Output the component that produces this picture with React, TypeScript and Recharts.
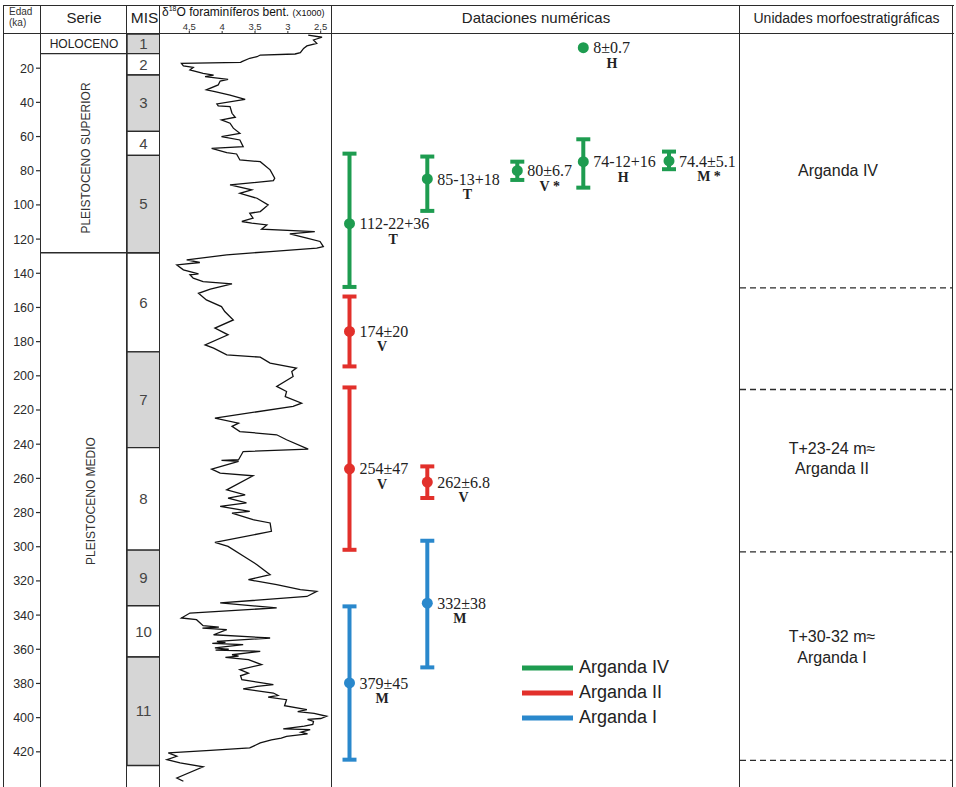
import {
  ComposedChart,
  LineChart,
  Line,
  Scatter,
  ErrorBar,
  XAxis,
  YAxis,
  ReferenceArea,
  ReferenceLine,
  Legend,
} from 'recharts'

// ─── Age scale (ka), shared by every column ─────────
const AGE_MAX = 440
const AGE_TICKS = [20, 40, 60, 80, 100, 120, 140, 160, 180, 200, 220, 240, 260, 280, 300, 320, 340, 360, 380, 400, 420]

// ─── Serie ─────────
const HOLOCENE_END = 11.5
const PLEISTOCENE_SUP_END = 128

// ─── MIS stages (boundaries in ka) ─────────
const MIS_LABELS = ['1', '2', '3', '4', '5', '6', '7', '8', '9', '10', '11']
const MIS_BOUNDS = [0, 11.5, 24, 57, 71, 128, 186, 242, 302, 334.5, 364.5, 428]

// ─── δ18O benthic curve ─────────────────────────────
const D18O_AGE = [
  0.6, 1.9, 3.5, 5.5, 7, 8.4, 10.9, 11.7, 12.3, 13.3, 14.2, 16.2, 16.6, 17.2, 18.7, 19.5, 21, 23, 24, 25,
  26.5, 27.5, 29.8, 32.7, 33.7, 35.7, 38.2, 40.9, 42, 42.5, 46.4, 48.7, 50.3, 52.2, 55.1, 58.1, 60, 62, 65.9, 66.9,
  69.4, 70.2, 73.7, 74.7, 79.5, 84.4, 85.8, 88.3, 91.2, 93.2, 96.1, 100, 103.9, 104.9, 107.8, 109.7, 110.7, 111.7, 114.2, 115.6,
  117, 119.5, 121.4, 124.4, 125.3, 127.3, 129.2, 132.2, 133.7, 135.1, 138, 140.4, 140.9, 142.9, 144.9, 146.2, 149.3, 151.7, 155.6, 159.5,
  162.4, 167.3, 172.1, 176, 181.9, 183.8, 187.7, 189.1, 192.6, 195.5, 197.5, 200.4, 206.2, 209.2, 212.1, 216, 217.9, 224.7, 227.7, 229.6,
  232.6, 234.5, 237.4, 242.9, 244.3, 249.1, 249.5, 250, 254.6, 256.9, 258.5, 266.7, 269.6, 271.5, 274.4, 276.4, 279.3, 280.3, 284.2, 286.1,
  291, 297.5, 299.8, 306.6, 310.5, 316.4, 319.3, 322.2, 325.1, 326.1, 329.1, 332.9, 335.8, 338.8, 341.7, 342.7, 346.2, 347, 347.6, 348.5,
  351.5, 353.4, 355.4, 356, 356.6, 357.3, 359.2, 360, 360.5, 361.2, 363.2, 364, 364.8, 366.1, 369, 371.9, 374, 375.5, 377.8, 380.7,
  381.7, 383.2, 385.6, 387, 388, 389.5, 393, 395.3, 396.5, 397.5, 399.2, 400.5, 401, 402.2, 404, 405, 406.6, 407, 408.5, 409.5,
  410.9, 412, 413, 414.8, 417.7, 419.1, 420.6, 422.6, 424.6, 426.5, 428.8, 435.3, 437.2,
]
const D18O_VALUE = [
  2.69, 2.48, 2.61, 2.56, 2.71, 2.76, 2.81, 2.89, 3.42, 3.47, 3.58, 3.7, 3.72, 4.62, 4.59, 4.44, 4.49, 4.29, 4.13, 4.26,
  3.91, 4.03, 4.06, 4.24, 4.11, 3.88, 3.65, 4.08, 4.06, 3.88, 3.85, 3.8, 4.01, 3.88, 3.83, 3.73, 4.01, 3.73, 3.68, 4.16,
  3.93, 3.78, 3.73, 3.42, 3.27, 3.2, 3.22, 3.88, 3.55, 3.73, 3.47, 3.3, 3.42, 3.58, 3.53, 3.7, 3.55, 3.32, 3.4, 2.59,
  2.97, 2.71, 2.51, 2.46, 2.56, 3.27, 3.93, 4.54, 4.34, 4.69, 4.59, 4.36, 4.49, 4.44, 4.29, 3.85, 4.18, 4.36, 4.24, 4.01,
  3.96, 3.83, 4.11, 3.91, 4.26, 4.13, 3.93, 3.42, 3.27, 2.87, 2.94, 2.92, 3.17, 3.02, 3.04, 2.79, 2.92, 4.11, 3.75, 3.85,
  3.73, 3.17, 3.02, 2.69, 3.68, 3.75, 4.01, 3.75, 4.16, 4.03, 3.53, 3.93, 3.65, 3.91, 3.63, 4.03, 3.58, 3.85, 3.53, 3.27,
  3.25, 4.11, 3.91, 3.63, 3.47, 3.27, 3.6, 3.17, 2.81, 2.56, 2.71, 4.03, 3.17, 4.49, 4.62, 4.39, 4.29, 4.05, 4.3, 3.93,
  4.13, 3.27, 4.08, 3.95, 4.15, 3.68, 4.11, 3.9, 4.1, 3.42, 3.85, 3.75, 3.95, 3.6, 3.4, 3.73, 3.6, 3.72, 3.7, 3.22,
  3.47, 3.68, 3.22, 3.15, 3.3, 3.02, 3.05, 2.71, 2.85, 2.6, 2.41, 2.5, 2.7, 2.61, 2.62, 2.75, 3.07, 2.66, 2.8, 2.7,
  3.02, 3.1, 3.25, 3.42, 3.58, 4.18, 4.82, 4.69, 4.84, 4.64, 4.29, 4.69, 4.59,
]
const D18O_TICKS = [2.5, 3, 3.5, 4, 4.5]

// ─── Dataciones numéricas ─────────
const UNIT_NAMES = ['Arganda IV', 'Arganda II', 'Arganda I']
const UNIT_COLORS = ['#1e9c50', '#e2302b', '#2a88cc']

const IV_LABEL = ['112-22+36', '85-13+18', '80±6.7', '74-12+16', '74.4±5.1']
const IV_METHOD = ['T', 'T', 'V *', 'H', 'M *']
const IV_AGE = [111, 84.8, 80, 74.7, 74.3]
const IV_MIN = [70, 71.7, 74.7, 61.6, 68.8]
const IV_MAX = [148, 103.5, 85.4, 89.9, 79.1]
const IV_SLOT = [0, 1, 2, 3, 4]

// Holocene date, no visible bar
const HOLO_LABEL = ['8±0.7']
const HOLO_METHOD = ['H']
const HOLO_AGE = [8]
const HOLO_SLOT = [3]

const II_LABEL = ['174±20', '254±47', '262±6.8']
const II_METHOD = ['V', 'V', 'V']
const II_AGE = [174, 254.4, 262.2]
const II_MIN = [153.6, 206.8, 253]
const II_MAX = [194.5, 301.8, 271.5]
const II_SLOT = [0, 0, 1]

const I_LABEL = ['332±38', '379±45']
const I_METHOD = ['M', 'M']
const I_AGE = [333, 379.7]
const I_MIN = [296.5, 334.9]
const I_MAX = [370.6, 424.6]
const I_SLOT = [1, 0]

// ─── Unidades morfoestratigráficas ─────────
const UNIT_BOUNDS = [148.5, 208, 303, 425]

// ─── layout ─────────
const PLOT_TOP = 34
const PLOT_H = 752
const SLOT_X = [17.5, 95.3, 185.3, 251.3, 337]
const MIS_X = [86, 119]
const LINE = '#2b2b2b'
const SANS = '"Liberation Sans", Arial, Helvetica, sans-serif'
const SERIF = '"Liberation Serif", "Times New Roman", serif'

const d18oRows = D18O_AGE.map((age, i) => ({ age, d18o: D18O_VALUE[i] }))

const misRows = MIS_LABELS.map((label, i) => ({
  x: (MIS_X[0] + MIS_X[1]) / 2,
  age: (MIS_BOUNDS[i] + MIS_BOUNDS[i + 1]) / 2,
  label,
}))

const boundRows = UNIT_BOUNDS.map((age) => ({ x: 0.5, age }))

function buildRows(label: string[], method: string[], age: number[], min: number[] | null, max: number[] | null, slot: number[]) {
  return age.map((a, i) => ({
    x: SLOT_X[slot[i]],
    age: a,
    err: min && max ? [a - min[i], max[i] - a] : [0, 0],
    label: label[i],
    method: method[i],
  }))
}

const ivRows = buildRows(IV_LABEL, IV_METHOD, IV_AGE, IV_MIN, IV_MAX, IV_SLOT)
const holoRows = buildRows(HOLO_LABEL, HOLO_METHOD, HOLO_AGE, null, null, HOLO_SLOT)
const iiRows = buildRows(II_LABEL, II_METHOD, II_AGE, II_MIN, II_MAX, II_SLOT)
const iRows = buildRows(I_LABEL, I_METHOD, I_AGE, I_MIN, I_MAX, I_SLOT)

const datingMark = (color: string) => (props: any) => {
  const { cx, cy, payload } = props
  const w = payload.label.length * 7.5
  return (
    <g>
      <circle cx={cx} cy={cy} r={5.5} fill={color} />
      <text x={cx + 10} y={cy} dy="0.35em" fontFamily={SERIF} fontSize={16} fill="#222">
        {payload.label}
      </text>
      <text x={cx + 10 + w / 2} y={cy + 15} dy="0.35em" textAnchor="middle" fontFamily={SERIF} fontWeight="bold" fontSize={14} fill="#222">
        {payload.method}
      </text>
    </g>
  )
}

const misLabel = (props: any) => (
  <text x={props.cx} y={props.cy} dy="0.35em" textAnchor="middle" fontSize={15} fill="#444">
    {props.payload.label}
  </text>
)

const ArgandaLegend = (props: any) => {
  const items = (props.payload ?? []).filter((p: any) => UNIT_NAMES.includes(p.value))
  items.sort((a: any, b: any) => UNIT_NAMES.indexOf(a.value) - UNIT_NAMES.indexOf(b.value))
  return (
    <div style={{ whiteSpace: 'nowrap' }}>
      {items.map((entry: any) => (
        <div key={entry.value} style={{ display: 'flex', alignItems: 'center', height: 25, width: 160 }}>
          <svg width={51} height={6} style={{ flex: 'none' }}>
            <line x1={0} x2={51} y1={3} y2={3} stroke={entry.color} strokeWidth={5} />
          </svg>
          <span style={{ fontSize: 18, color: '#222', marginLeft: 6, fontFamily: SANS }}>{entry.value}</span>
        </div>
      ))}
    </div>
  )
}

const abs = (left: number, top: number, extra: any = {}) => ({ position: 'absolute' as const, left, top, ...extra })

export default function App() {
  const vLines = [4, 41, 127, 160, 332, 740, 953]
  return (
    <div style={{ position: 'absolute', left: 0, top: 0, width: 956, height: 787, background: '#fff', fontFamily: SANS, color: '#222', overflow: 'hidden' }}>
      {/* header texts */}
      <div style={abs(9, 6, { fontSize: 10, lineHeight: '11px', color: '#333' })}>
        Edad
        <br />
        (ka)
      </div>
      <div style={abs(41, 9, { width: 86, textAlign: 'center', fontSize: 15 })}>Serie</div>
      <div style={abs(127, 9, { width: 35, textAlign: 'center', fontSize: 15.5 })}>MIS</div>
      <div style={abs(162, 5, { fontSize: 12, whiteSpace: 'nowrap', color: '#111' })}>
        δ<sup style={{ fontSize: 7 }}>18</sup>O foraminíferos bent. <span style={{ fontSize: 9 }}>(X1000)</span>
      </div>
      <div style={abs(332, 9, { width: 408, textAlign: 'center', fontSize: 15 })}>Dataciones numéricas</div>
      <div style={abs(740, 10, { width: 213, textAlign: 'center', fontSize: 14, whiteSpace: 'nowrap' })}>Unidades morfoestratigráficas</div>

      {/* Edad + Serie + MIS */}
      <div style={abs(4, PLOT_TOP)}>
        <ComposedChart width={156} height={PLOT_H} data={misRows} margin={{ top: 0, right: 0, bottom: 0, left: 0 }}>
          <XAxis type="number" dataKey="x" domain={[0, 119]} allowDataOverflow hide />
          <YAxis
            type="number"
            dataKey="age"
            domain={[0, AGE_MAX]}
            allowDataOverflow
            reversed
            ticks={AGE_TICKS}
            interval={0}
            width={37}
            tickSize={5}
            tickMargin={2}
            axisLine={false}
            tickLine={{ stroke: LINE, strokeWidth: 1.2 }}
            tick={{ fontSize: 12.5, fill: '#2a2a2a' }}
          />
          {MIS_LABELS.map((m, i) => (
            <ReferenceArea
              key={m}
              x1={MIS_X[0]}
              x2={MIS_X[1]}
              y1={MIS_BOUNDS[i]}
              y2={MIS_BOUNDS[i + 1]}
              fill={i % 2 === 0 ? '#d6d6d6' : '#ffffff'}
              fillOpacity={1}
              stroke={LINE}
              strokeWidth={1.4}
            />
          ))}
          <ReferenceLine segment={[{ x: 0, y: HOLOCENE_END }, { x: MIS_X[0], y: HOLOCENE_END }]} stroke={LINE} strokeWidth={1.4} />
          <ReferenceLine y={PLEISTOCENE_SUP_END} stroke={LINE} strokeWidth={1.6} />
          <ReferenceArea
            x1={0}
            x2={MIS_X[0]}
            y1={0}
            y2={HOLOCENE_END}
            fill="none"
            stroke="none"
            label={{ value: 'HOLOCENO', position: 'center', fontSize: 12, fill: '#222' }}
          />
          <Scatter data={misRows} shape={misLabel} isAnimationActive={false} />
        </ComposedChart>
      </div>
      <div style={abs(86, 158, { transform: 'translate(-50%,-50%) rotate(-90deg)', fontSize: 12, whiteSpace: 'nowrap', color: '#333' })}>
        PLEISTOCENO SUPERIOR
      </div>
      <div style={abs(91, 501, { transform: 'translate(-50%,-50%) rotate(-90deg)', fontSize: 12, whiteSpace: 'nowrap', color: '#333' })}>
        PLEISTOCENO MEDIO
      </div>

      {/* δ18O curve */}
      <div style={abs(160, PLOT_TOP - 30)}>
        <LineChart layout="vertical" width={172} height={PLOT_H + 30} data={d18oRows} margin={{ top: 0, right: 0, bottom: 0, left: 0 }}>
          <XAxis
            type="number"
            dataKey="d18o"
            orientation="top"
            domain={[2.328, 4.946]}
            reversed
            ticks={D18O_TICKS}
            interval={0}
            height={30}
            tickSize={3}
            tickMargin={1}
            axisLine={false}
            tickLine={{ stroke: LINE }}
            tick={{ fontSize: 9.5, fill: '#333' }}
            tickFormatter={(v: number) => String(v).replace('.', ',')}
            allowDataOverflow
          />
          <YAxis type="number" dataKey="age" domain={[0, AGE_MAX]} hide allowDataOverflow />
          <Line type="linear" dataKey="d18o" stroke="#111" strokeWidth={1.3} dot={false} isAnimationActive={false} />
        </LineChart>
      </div>

      {/* Dataciones numéricas */}
      <div style={abs(332, PLOT_TOP)}>
        <ComposedChart width={408} height={PLOT_H} margin={{ top: 0, right: 0, bottom: 0, left: 0 }}>
          <XAxis type="number" dataKey="x" domain={[0, 408]} allowDataOverflow hide />
          <YAxis type="number" dataKey="age" domain={[0, AGE_MAX]} allowDataOverflow reversed hide />
          <Scatter name={UNIT_NAMES[0]} data={ivRows} fill={UNIT_COLORS[0]} shape={datingMark(UNIT_COLORS[0])} legendType="plainline" isAnimationActive={false}>
            <ErrorBar dataKey="err" direction="y" width={7} strokeWidth={4} stroke={UNIT_COLORS[0]} isAnimationActive={false} />
          </Scatter>
          <Scatter name="holo" data={holoRows} fill={UNIT_COLORS[0]} shape={datingMark(UNIT_COLORS[0])} legendType="none" isAnimationActive={false} />
          <Scatter name={UNIT_NAMES[1]} data={iiRows} fill={UNIT_COLORS[1]} shape={datingMark(UNIT_COLORS[1])} legendType="plainline" isAnimationActive={false}>
            <ErrorBar dataKey="err" direction="y" width={7} strokeWidth={4} stroke={UNIT_COLORS[1]} isAnimationActive={false} />
          </Scatter>
          <Scatter name={UNIT_NAMES[2]} data={iRows} fill={UNIT_COLORS[2]} shape={datingMark(UNIT_COLORS[2])} legendType="plainline" isAnimationActive={false}>
            <ErrorBar dataKey="err" direction="y" width={7} strokeWidth={4} stroke={UNIT_COLORS[2]} isAnimationActive={false} />
          </Scatter>
          <Legend
            content={<ArgandaLegend />}
            wrapperStyle={{ position: 'absolute', left: 190, top: 621, width: 0, height: 0, overflow: 'visible' }}
          />
        </ComposedChart>
      </div>

      {/* Unidades morfoestratigráficas */}
      <div style={abs(740, PLOT_TOP)}>
        <ComposedChart width={213} height={PLOT_H} data={boundRows} margin={{ top: 0, right: 0, bottom: 0, left: 0 }}>
          <XAxis type="number" dataKey="x" domain={[0, 1]} allowDataOverflow hide />
          <YAxis type="number" dataKey="age" domain={[0, AGE_MAX]} allowDataOverflow reversed hide />
          {UNIT_BOUNDS.map((b) => (
            <ReferenceLine key={b} y={b} stroke={LINE} strokeWidth={1.3} strokeDasharray="6 4" />
          ))}
          <Scatter data={boundRows} shape={() => <g />} isAnimationActive={false} />
        </ComposedChart>
      </div>
      <div style={abs(740, 162, { width: 196, textAlign: 'center', fontSize: 16 })}>Arganda IV</div>
      <div style={abs(740, 439, { width: 184, textAlign: 'center', fontSize: 16, lineHeight: '20px' })}>
        T+23-24 m≈
        <br />
        Arganda II
      </div>
      <div style={abs(740, 626, { width: 184, textAlign: 'center', fontSize: 16, lineHeight: '21px' })}>
        T+30-32 m≈
        <br />
        Arganda I
      </div>

      {/* frame */}
      <div style={abs(4, 5, { width: 950, height: 0, borderTop: `1.6px solid ${LINE}` })} />
      <div style={abs(4, 33, { width: 950, height: 0, borderTop: `1.6px solid ${LINE}` })} />
      {vLines.map((x) => (
        <div key={x} style={abs(x - 0.8, 5, { width: 0, height: 782, borderLeft: `1.6px solid ${LINE}` })} />
      ))}
    </div>
  )
}
